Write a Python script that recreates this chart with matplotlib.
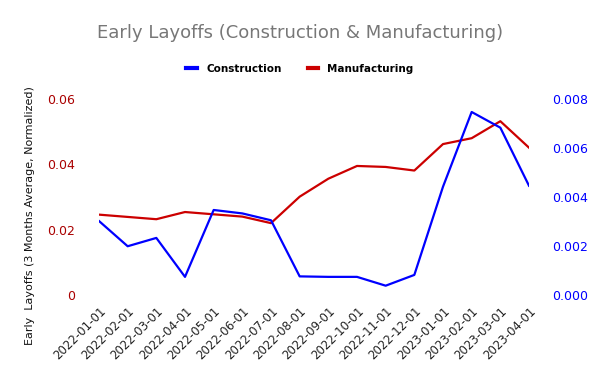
import matplotlib
matplotlib.use("Agg")
import matplotlib.pyplot as plt
from matplotlib.ticker import FixedLocator, FuncFormatter

dates = ["2022-01-01", "2022-02-01", "2022-03-01", "2022-04-01", "2022-05-01",
         "2022-06-01", "2022-07-01", "2022-08-01", "2022-09-01", "2022-10-01",
         "2022-11-01", "2022-12-01", "2023-01-01", "2023-02-01", "2023-03-01",
         "2023-04-01"]
manufacturing = [0.0246, 0.0239, 0.0232, 0.0254, 0.0247, 0.0240, 0.0220, 0.0301,
                 0.0356, 0.0395, 0.0392, 0.0381, 0.0462, 0.0480, 0.0532, 0.0451]
construction = [0.00302, 0.00199, 0.00233, 0.00074, 0.00347, 0.00333, 0.00305, 0.00076,
                0.00074, 0.00074, 0.00038, 0.00082, 0.00442, 0.00747, 0.00683, 0.00446]

left_ticks = [0, 0.02, 0.04, 0.06]
right_ticks = [0.0, 0.002, 0.004, 0.006, 0.008]

c_blue = "#0000ff"
c_red = "#cc0000"

fig = plt.figure(figsize=(6, 3.71), dpi=100)
ax = fig.add_axes([99/600, (371-295)/371, (529-99)/600, (295-99)/371])
ax2 = ax.twinx()

x = list(range(len(dates)))
l2, = ax2.plot(x, construction, color=c_blue, lw=1.6, label="Construction")
l1, = ax.plot(x, manufacturing, color=c_red, lw=1.6, label="Manufacturing")

ax.set_xlim(0, len(dates) - 1)
ax.set_ylim(0, 0.06)
ax2.set_ylim(0, 0.008)

ax.yaxis.set_major_locator(FixedLocator(left_ticks))
ax.yaxis.set_major_formatter(FuncFormatter(lambda v, p: "0" if v == 0 else f"{v:.2f}"))
ax2.yaxis.set_major_locator(FixedLocator(right_ticks))
ax2.yaxis.set_major_formatter(FuncFormatter(lambda v, p: f"{v:.3f}"))

ax.set_xticks(x)
ax.set_xticklabels(dates, rotation=45, ha="right", rotation_mode="anchor", fontsize=8.5, color="#222222")

for a in (ax, ax2):
    for s in a.spines.values():
        s.set_visible(False)
ax.tick_params(axis="y", length=0, pad=17, labelcolor="#aa0000", labelsize=9)
ax2.tick_params(axis="y", length=0, pad=17, labelcolor=c_blue, labelsize=9)
ax.tick_params(axis="x", length=0, pad=7)

fig.text(0.05, (371-216)/371, "Early  Layoffs (3 Months Average, Normalized)", rotation=90,
         ha="center", va="center", fontsize=8, color="#111111")

fig.text(0.5, (371-33)/371, "Early Layoffs (Construction & Manufacturing)", ha="center",
         va="center", fontsize=13, color="#777777")

fig.legend(handles=[l2, l1], loc="center", bbox_to_anchor=(0.5, (371-69)/371), ncol=2,
           frameon=False, prop={"weight": "bold", "size": 7.5}, handlelength=1.0,
           columnspacing=2.5, handletextpad=0.9)
for h in fig.legends[0].get_lines():
    h.set_linewidth(3)

fig.savefig("out.png", dpi=100)
